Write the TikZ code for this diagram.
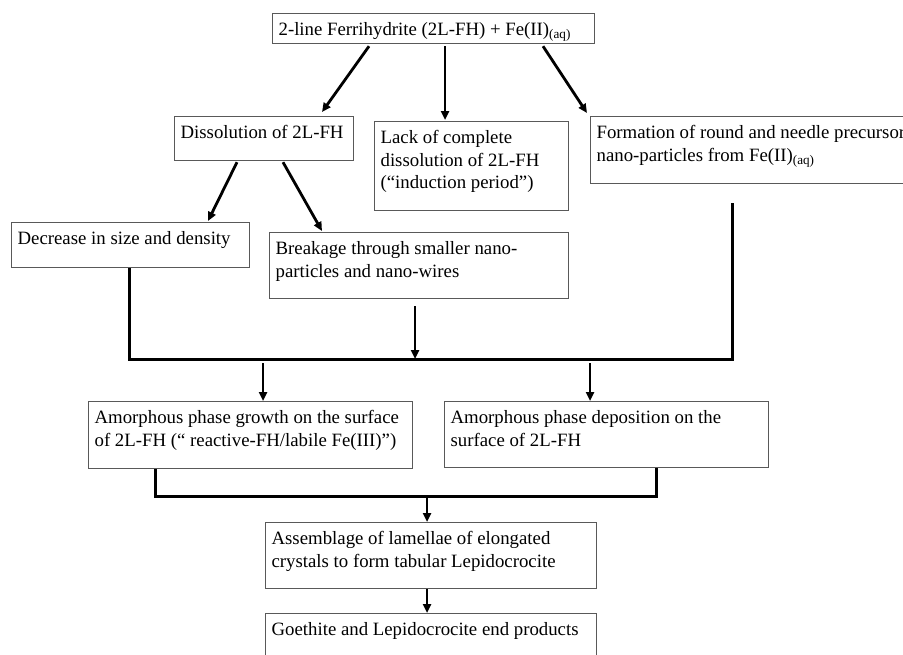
\documentclass[tikz,border=0pt]{standalone}
\usepackage{fontspec}
\setmainfont{Liberation Serif}
\usepackage{tikz}
\usetikzlibrary{calc,positioning}
\usetikzlibrary{arrows.meta}
\newcommand{\boxtext}[3]{\parbox[c][#2pt][t]{#1pt}{\raggedright\rule{0pt}{11pt}#3}}

\begin{document}
\begin{tikzpicture}[x=0.5pt,y=-0.5pt,
box/.style={draw=black!65,line width=0.6pt,anchor=north west,inner xsep=3pt,inner ysep=0pt,
font=\fontsize{9.4}{11.25}\selectfont},
link/.style={line width=1.4pt,-{Triangle[length=4.5pt,width=4pt]}},
bus/.style={line width=1.5pt,line join=miter}]
\useasboundingbox (0,0) rectangle (903,654);
\clip (0,0) rectangle (903,654);
% boxes
\node (top) at (272,13)[box] {\boxtext{155}{15}{2-line Ferrihydrite (2L-FH) + Fe(II)\textsubscript{(aq)}}};
\node (diss) at (174,116)[box] {\boxtext{83.5}{22}{Dissolution of 2L-FH}};
\node (lack) at (374,121)[box] {\boxtext{91}{44.5}{Lack of complete\\ dissolution of 2L-FH\\ (``induction period'')}};
\node (form) at (590,116)[box] {\boxtext{164}{33.5}{Formation of round and needle precursor\\ nano-particles from Fe(II)\textsubscript{(aq)}}};
\node (dec) at (11,222)[box] {\boxtext{113}{22.5}{Decrease in size and density}};
\node (brk) at (269,232)[box] {\boxtext{143.5}{33}{Breakage through smaller nano-\\ particles and nano-wires}};
\node (grow) at (88,401)[box] {\boxtext{156}{33.5}{Amorphous phase growth on the surface\\ of 2L-FH (`` reactive-FH/labile Fe(III)'')}};
\node (depo) at (444,401)[box] {\boxtext{156}{33}{Amorphous phase deposition on the\\ surface of 2L-FH}};
\node (asm) at (265,522)[box] {\boxtext{159.5}{33}{Assemblage of lamellae of elongated\\ crystals to form tabular Lepidocrocite}};
\node (goe) at (265,613)[box] {\boxtext{159.5}{33}{Goethite and Lepidocrocite end products}};
% junction points
\coordinate (jl) at (129,359);
\coordinate (jm) at (415,359);
\coordinate (jr) at (732,359);
\coordinate (kl) at (155,496);
\coordinate (kr) at (656,496);
% arrows from the top
\draw[link] ($(top.south west)+(97,2)$) -- ($(diss.north west)+(148,-4)$);
\draw[link] ($(top.south west)+(173,2)$) -- ($(lack.north west)+(71,-1)$);
\draw[link] ($(top.south west)+(271,2)$) -- ($(form.north west)+(-3,-3)$);
\draw[link] ($(diss.south west)+(63,1)$) -- ($(dec.north west)+(197,-1)$);
\draw[link] ($(diss.south west)+(109,1)$) -- ($(brk.north west)+(53,-1)$);
% first collector
\draw[bus] (dec.south -| jl) -- (jl) -- (jr) -- ($(form.south -| jr)+(0,19)$);
\draw[link] ($(brk.south -| jm)+(0,7)$) -- (jm);
\draw[link] ($(grow.north west)+(175,-38)$) -- ($(grow.north west)+(175,0)$);
\draw[link] ($(depo.north west)+(146,-38)$) -- ($(depo.north west)+(146,0)$);
% second collector
\draw[bus] (grow.south -| kl) -- (kl) -- (kr) -- (depo.south -| kr);
\draw[link] ($(asm.north west)+(162,-25)$) -- ($(asm.north west)+(162,0)$);
\draw[link] ($(asm.south west)+(162,0)$) -- ($(goe.north west)+(162,0)$);
\end{tikzpicture}
\end{document}
